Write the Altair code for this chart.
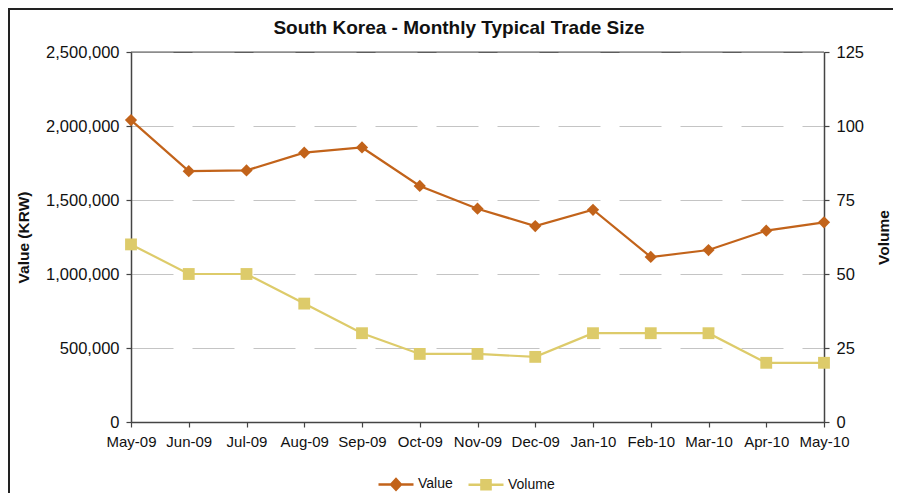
import altair as alt
import pandas as pd

months = ["May-09", "Jun-09", "Jul-09", "Aug-09", "Sep-09", "Oct-09", "Nov-09",
          "Dec-09", "Jan-10", "Feb-10", "Mar-10", "Apr-10", "May-10"]
values = [2040000, 1695000, 1700000, 1820000, 1855000, 1595000, 1441000,
          1324000, 1434000, 1115000, 1162000, 1293000, 1349000]
volumes = [60, 50, 50, 40, 30, 23, 23, 22, 30, 30, 30, 20, 20]
series = ["Value", "Volume"]
colors = ["#C2631A", "#DDCB6A"]
left_ticks = [0, 500000, 1000000, 1500000, 2000000, 2500000]
right_ticks = [0, 25, 50, 75, 100, 125]
title_text = "South Korea - Monthly Typical Trade Size"

FONT = "Liberation Sans"
df = pd.DataFrame({"month": months, "value": values, "volume": volumes})

x_enc = alt.X("month:N", sort=months, scale=alt.Scale(padding=0),
              axis=alt.Axis(title=None, labelAngle=0, labelFontSize=15, labelPadding=7,
                            tickSize=5, grid=False))
y_val = alt.Y("value:Q", scale=alt.Scale(domain=[0, 2500000], nice=False, zero=True),
              axis=alt.Axis(values=left_ticks, format=",d", title="Value (KRW)",
                            grid=True, gridDash=[42, 19], gridColor="#C4C4C4", gridWidth=1,
                            labelFontSize=16.5, labelPadding=7, tickSize=5,
                            titleFontSize=15.5, titlePadding=14))
y_vol = alt.Y("volume:Q", scale=alt.Scale(domain=[0, 125], nice=False, zero=True),
              axis=alt.Axis(orient="right", values=right_ticks, title="Volume", grid=False,
                            labelFontSize=16.5, labelPadding=7, tickSize=5,
                            titleFontSize=15.5, titlePadding=28, titleAngle=270))

base = alt.Chart(df)
value_line = base.mark_line(color=colors[0], strokeWidth=2.2).encode(x=x_enc, y=y_val)
value_pts = base.mark_point(shape="diamond", filled=True, size=150, color=colors[0],
                            opacity=1).encode(x=x_enc, y=y_val)
vol_line = base.mark_line(color=colors[1], strokeWidth=2.2).encode(x=x_enc, y=y_vol)
vol_pts = base.mark_point(shape="square", filled=True, size=140, color=colors[1],
                          opacity=1).encode(x=x_enc, y=y_vol)

paths = ["M-1,0L1,0M0,-0.3L0.28,0L0,0.3L-0.28,0Z",
         "M-1,0L1,0M-0.26,-0.26L0.26,-0.26L0.26,0.26L-0.26,0.26Z"]
leg_df = pd.DataFrame({"series": series})
legend_layer = alt.Chart(leg_df).mark_point(filled=True, opacity=0).encode(
    x=alt.value(0), y=alt.value(0),
    fill=alt.Fill("series:N", scale=alt.Scale(domain=series, range=colors), title=None),
    stroke=alt.Stroke("series:N", scale=alt.Scale(domain=series, range=colors), title=None),
    shape=alt.Shape("series:N", scale=alt.Scale(domain=series, range=paths), title=None),
)

one = pd.DataFrame({"b": [0]})
border_left = alt.Chart(one).mark_rule(stroke="#222222", strokeWidth=2).encode(
    x=alt.value(-122), y=alt.value(-43), y2=alt.value(470))
border_top = alt.Chart(one).mark_rule(stroke="#222222", strokeWidth=2).encode(
    x=alt.value(-123), x2=alt.value(800), y=alt.value(-43))
plot_top = alt.Chart(one).mark_rule(stroke="#555555", strokeWidth=1).encode(
    x=alt.value(0), x2=alt.value(693), y=alt.value(0))
title_mark = alt.Chart(pd.DataFrame({"t": [title_text]})).mark_text(
    font=FONT, fontSize=19, fontWeight="bold", color="#111111",
    align="center", baseline="middle"
).encode(text="t:N", x=alt.value(328), y=alt.value(-24))

left = alt.layer(value_line, value_pts)
right = alt.layer(vol_line, vol_pts)

chart = alt.layer(border_left, border_top, plot_top, title_mark, left, right,
                  legend_layer).resolve_scale(y="independent").properties(
    width=693, height=370,
    autosize=alt.AutoSizeParams(type="none"),
    padding={"left": 123, "top": 44, "right": 69, "bottom": 71},
).configure_view(
    stroke="#666666", strokeWidth=1
).configure_axis(
    labelFont=FONT, titleFont=FONT, labelColor="#111111", titleColor="#111111",
    domainColor="#444444", domainWidth=1.5, tickColor="#444444", tickWidth=1.2,
    titleFontWeight="bold"
).configure_legend(
    orient="none", legendX=246, legendY=413, direction="horizontal", padding=0,
    symbolSize=1225, symbolStrokeWidth=2.5, labelFont=FONT, labelFontSize=14,
    labelColor="#111111", labelOffset=3, columnPadding=10, symbolOpacity=1
)

chart.save("out.html", embed_options={"renderer": "svg", "actions": False})
